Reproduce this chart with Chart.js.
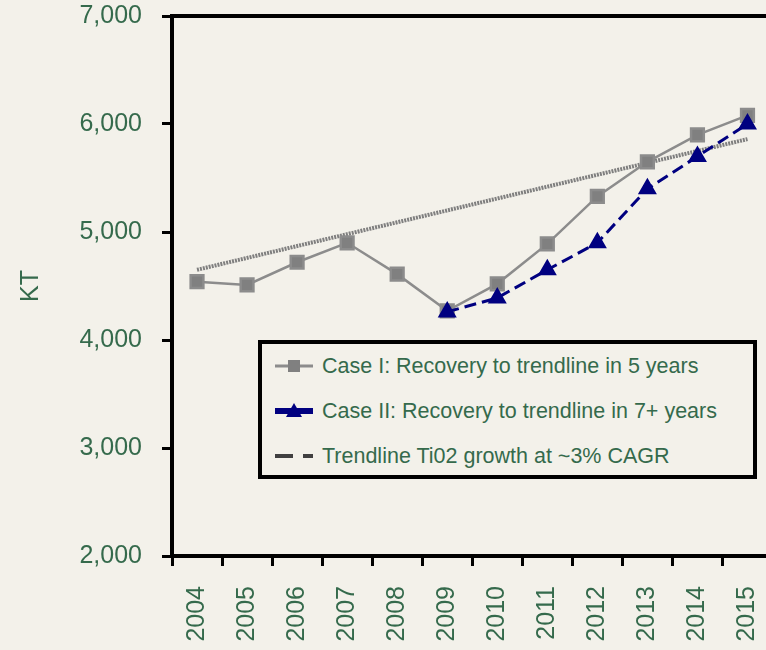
<!DOCTYPE html>
<html>
<head>
<meta charset="utf-8">
<script src="https://cdn.jsdelivr.net/npm/chart.js@4.4.0/dist/chart.umd.min.js"></script>
<style>
  html, body { margin: 0; padding: 0; overflow: hidden; background: #f3f1ea; }
  #wrap { position: absolute; left: 0; top: 0; width: 784px; height: 650px; }
  #legendContainer {
    position: absolute; left: 258px; top: 340px; width: 499px; height: 139px;
    box-sizing: border-box; border: 4px solid #000; background: #f3f1ea;
    font-family: "Liberation Sans", Arial, sans-serif; font-size: 21.5px; color: #356a4c;
  }
  .legend-item { position: relative; height: 45px; line-height: 45px; padding-left: 60px; white-space: nowrap; }
  .legend-item svg { position: absolute; left: 13px; top: 12px; }
</style>
</head>
<body>
<div id="wrap">
  <canvas id="ktChart" width="784" height="650"></canvas>
  <div id="legendContainer"></div>
</div>
<script>
  var years = ['2004', '2005', '2006', '2007', '2008', '2009', '2010', '2011', '2012', '2013', '2014', '2015'];
  var caseOne = [4540, 4510, 4720, 4900, 4610, 4270, 4520, 4890, 5330, 5650, 5900, 6080];
  var caseTwo = [null, null, null, null, null, 4260, 4390, 4650, 4900, 5400, 5700, 6000];
  var trendline = [4650, 4760, 4870, 4980, 5090, 5200, 5310, 5420, 5530, 5640, 5750, 5860];
  var yTickValues = [2000, 3000, 4000, 5000, 6000, 7000];
  var seriesNames = ['Case I: Recovery to trendline in 5 years', 'Case II: Recovery to trendline in 7+ years', 'Trendline Ti02 growth at ~3% CAGR'];

  var green = '#356a4c';
  var font = "'Liberation Sans', Arial, sans-serif";

  // top frame line of the plot
  var topLine = {
    id: 'topLine',
    afterDraw: function (chart) {
      var ctx = chart.ctx;
      ctx.save();
      ctx.strokeStyle = '#000';
      ctx.lineWidth = 4;
      ctx.beginPath();
      ctx.moveTo(chart.chartArea.left, chart.chartArea.top);
      ctx.lineTo(chart.width, chart.chartArea.top);
      ctx.stroke();
      ctx.restore();
    }
  };

  var ctx = document.getElementById('ktChart').getContext('2d');
  var ktChart = new Chart(ctx, {
    type: 'line',
    data: {
      labels: years,
      datasets: [{
        label: seriesNames[1],
        data: caseTwo,
        borderColor: '#000080',
        backgroundColor: '#000080',
        borderWidth: 3,
        borderDash: [12, 6],
        pointStyle: 'triangle',
        pointRadius: 8,
        order: 0
      }, {
        label: seriesNames[0],
        data: caseOne,
        borderColor: '#8c8c8c',
        backgroundColor: '#808080',
        borderWidth: 2.5,
        pointStyle: 'rect',
        pointRadius: 9,
        order: 1
      }, {
        label: seriesNames[2],
        data: trendline,
        borderColor: '#7f7f7f',
        borderWidth: 4,
        borderDash: [2, 1],
        pointRadius: 0,
        order: 2
      }]
    },
    options: {
      responsive: false,
      animation: false,
      devicePixelRatio: 1,
      layout: { padding: { top: 16, left: 0, right: 0, bottom: 0 } },
      plugins: { legend: { display: false }, tooltip: { enabled: false } },
      scales: {
        x: {
          offset: true,
          grid: { offset: true, drawOnChartArea: false, color: '#000', lineWidth: 3, tickLength: 10 },
          border: { color: '#000', width: 4 },
          ticks: { color: green, font: { family: font, size: 25 }, minRotation: 90, maxRotation: 90, padding: 20 },
          afterFit: function (scale) {
            scale.height = 94;
            scale.paddingLeft = 0;
            scale.paddingRight = 0;
          }
        },
        y: {
          min: yTickValues[0],
          max: yTickValues[yTickValues.length - 1],
          ticks: { stepSize: 1000, color: green, font: { family: font, size: 25 }, padding: 20 },
          grid: { drawOnChartArea: false, color: '#000', lineWidth: 3, tickLength: 10 },
          border: { color: '#000', width: 4 },
          title: { display: true, text: 'KT', color: green, font: { family: font, size: 25 }, padding: { top: 16 } },
          afterFit: function (scale) {
            scale.width = 172;
            scale.paddingTop = 0;
            scale.paddingBottom = 0;
          }
        }
      }
    },
    plugins: [topLine]
  });

  // Legend swatches
  var swatches = [
    '<line x1="0" y1="10" x2="38" y2="10" stroke="#8c8c8c" stroke-width="3"/><rect x="13" y="4" width="12" height="12" fill="#808080"/>',
    '<line x1="0" y1="10" x2="38" y2="10" stroke="#000080" stroke-width="6"/><polygon points="19,2 27,16 11,16" fill="#000080"/>',
    '<line x1="0" y1="10" x2="18" y2="10" stroke="#404040" stroke-width="4"/><line x1="28" y1="10" x2="38" y2="10" stroke="#404040" stroke-width="4"/>'
  ];
  var legendContainer = document.getElementById('legendContainer');
  seriesNames.forEach(function (label, index) {
    var legendItem = document.createElement('div');
    legendItem.classList.add('legend-item');
    legendItem.innerHTML = '<svg width="40" height="20">' + swatches[index] + '</svg>' + label;
    legendContainer.appendChild(legendItem);
  });
</script>
</body>
</html>
